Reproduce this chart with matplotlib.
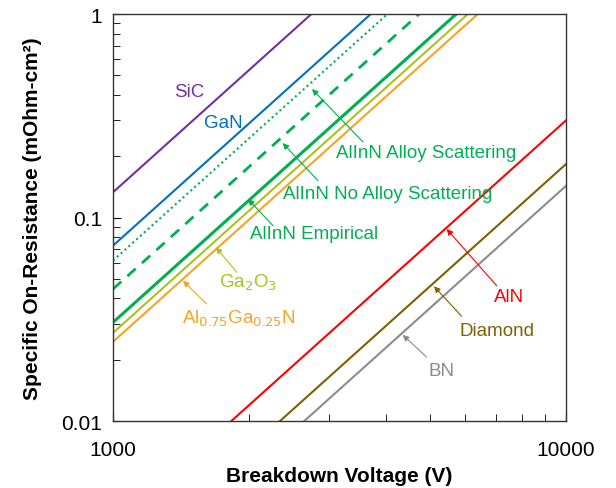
import matplotlib
matplotlib.use("Agg")
import matplotlib.pyplot as plt

plt.rcParams['font.family'] = ['Liberation Sans', 'DejaVu Sans']

# breakdown voltage range (V)
voltage = [1000, 10000]

# specific on-resistance (mOhm-cm2) read at 1000 V and 10000 V
ron_sic = [0.133, 13.3]
ron_gan = [0.0727, 7.27]
ron_alinn_alloy = [0.0614, 6.14]
ron_alinn_noalloy = [0.0445, 4.45]
ron_alinn_emp = [0.0305, 3.05]
ron_ga2o3 = [0.0271, 2.71]
ron_algan = [0.0245, 2.45]
ron_aln = [0.0030, 0.30]
ron_diamond = [0.00183, 0.183]
ron_bn = [0.00143, 0.143]

fig = plt.figure(figsize=(6.16, 4.89), dpi=100)
ax = fig.add_axes([0.1834, 0.137, 0.7354, 0.8323])

green = '#00B050'
ygreen = '#A8C41A'
orange = '#F8A323'
ax.plot(voltage, ron_sic, color='#7030A0', lw=1.5)
ax.plot(voltage, ron_gan, color='#0070C0', lw=1.5)
ax.plot(voltage, ron_alinn_alloy, color=green, lw=1.5, ls=(0, (1, 1.5)))
ax.plot(voltage, ron_alinn_noalloy, color=green, lw=2, ls=(0, (4, 3)))
ax.plot(voltage, ron_alinn_emp, color=green, lw=2.2)
ax.plot(voltage, ron_ga2o3, color=ygreen, lw=1.5)
ax.plot(voltage, ron_algan, color=orange, lw=1.5)
ax.plot(voltage, ron_aln, color='#FF0000', lw=1.5)
ax.plot(voltage, ron_diamond, color='#7F6000', lw=1.5)
ax.plot(voltage, ron_bn, color='#8C8C8C', lw=1.5)

ax.set_xscale('log')
ax.set_yscale('log')
ax.set_xlim(1000, 10000)
ax.set_ylim(0.01, 1)
ax.set_xticks([1000, 10000])
ax.set_xticklabels(['1000', '10000'])
ax.set_yticks([0.01, 0.1, 1])
ax.set_yticklabels(['0.01', '0.1', '1'])
ax.tick_params(which='both', direction='in', top=False, right=False,
               labelsize=15)
ax.tick_params(axis='x', pad=14)
ax.tick_params(axis='y', pad=8)
ax.tick_params(which='major', length=6)
ax.tick_params(which='minor', length=5)
for s in ax.spines.values():
    s.set_linewidth(1.0)
    s.set_color('#333333')

ax.set_xlabel('Breakdown Voltage (V)', fontsize=15, fontweight='bold', labelpad=5)
ax.set_ylabel('Specific On-Resistance (mOhm-cm²)', fontsize=15,
              fontweight='bold', labelpad=14)

ax.text(1472, 0.414, 'SiC', color='#7030A0', fontsize=13.5, ha='center', va='center')
ax.text(1749, 0.2946, 'GaN', color='#0070C0', fontsize=13.5, ha='center', va='center')


def note(text, color, head, tail, pos, ha='left'):
    ax.annotate('', xy=head, xytext=tail,
                arrowprops=dict(arrowstyle='-|>', color=color, lw=0.8,
                                mutation_scale=9, shrinkA=0, shrinkB=0))
    ax.text(pos[0], pos[1], text, color=color, fontsize=13.5,
            ha=ha, va='center')


note('AlInN Alloy Scattering', green, (2750, 0.428), (3564, 0.235), (3107, 0.2075))
note('AlInN No Alloy Scattering', green, (2369, 0.2323), (2835, 0.1517), (2369, 0.1305))
note('AlInN Empirical', green, (1986, 0.1233), (2256, 0.0911), (2006, 0.0839))
note('Ga$_2$O$_3$', ygreen, (1688, 0.0714), (1876, 0.0538), (1986, 0.0482), ha='center')
note('Al$_{0.75}$Ga$_{0.25}$N', orange, (1427, 0.0489), (1610, 0.0376), (1897, 0.0321), ha='center')
note('AlN', '#FF0000', (5453, 0.0878), (7031, 0.0462), (7484, 0.0407), ha='center')
note('Diamond', '#7F6000', (5113, 0.0459), (5885, 0.0327), (7043, 0.0277), ha='center')
note('BN', '#8C8C8C', (4361, 0.0265), (4926, 0.0206), (5299, 0.0178), ha='center')

fig.savefig('out.png', dpi=100)
